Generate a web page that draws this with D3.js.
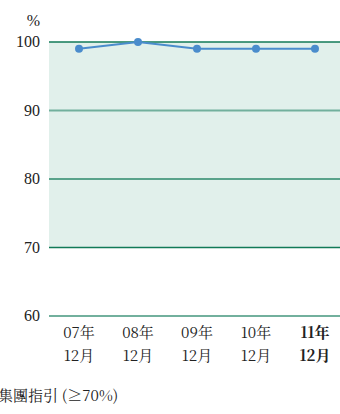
<!DOCTYPE html>
<html>
<head>
<meta charset="utf-8">
<script src="https://cdn.jsdelivr.net/npm/d3@7"></script>
</head>
<body style="margin:0;background:#fff">
<svg id="chart" width="340" height="414" style="display:block"></svg>
<script>
// Compliance rate by year-end (%)
const years = ["07年", "08年", "09年", "10年", "11年"];
const months = ["12月", "12月", "12月", "12月", "12月"];
const values = [99, 100, 99, 99, 99];
const yTicks = [60, 70, 80, 90, 100];
const guideline = [70, 100];
const unitLabel = "%";
const footnote = "集團指引 (≥70%)";

const LATIN = '"Liberation Serif"';
const CJK = '"Noto Serif CJK TC"';
const svg = d3.select("#chart");
const plotLeft = 49, plotRight = 340;

const y = d3.scaleLinear().domain([60, 100]).range([316, 42]);
const x = d3.scalePoint().domain(d3.range(years.length)).range([79, 315]);

// Guideline band
svg.append("rect")
  .attr("x", plotLeft)
  .attr("width", plotRight - plotLeft)
  .attr("y", y(guideline[1]))
  .attr("height", y(guideline[0]) - y(guideline[1]))
  .attr("fill", "#e1f0eb");

// Grid lines
const gridColor = d => (d === 70 || d === 100) ? "#117a57" : (d === 80 ? "#2b8a6b" : "#72b09d");
svg.append("g").selectAll("line")
  .data(yTicks)
  .join("line")
  .attr("x1", plotLeft).attr("x2", plotRight)
  .attr("y1", d => y(d)).attr("y2", d => y(d))
  .attr("stroke", gridColor)
  .attr("stroke-width", d => (d === 90 || d === 60) ? 2 : 1.6);

// Y tick labels
svg.append("g").selectAll("text")
  .data(yTicks)
  .join("text")
  .attr("x", 40)
  .attr("y", d => y(d) + 5)
  .attr("text-anchor", "end")
  .attr("font-size", 16)
  .attr("fill", "#222")
  .style("font-family", LATIN)
  .text(d => d);

svg.append("text")
  .attr("x", 40).attr("y", 26)
  .attr("text-anchor", "end")
  .attr("font-size", 16)
  .attr("fill", "#222")
  .style("font-family", LATIN)
  .text(unitLabel);

// Line and points
const line = d3.line().x((d, i) => x(i)).y(d => y(d));
svg.append("path")
  .datum(values)
  .attr("d", line)
  .attr("fill", "none")
  .attr("stroke", "#4a8ccc")
  .attr("stroke-width", 2);

svg.append("g").selectAll("circle")
  .data(values)
  .join("circle")
  .attr("cx", (d, i) => x(i))
  .attr("cy", d => y(d))
  .attr("r", 4)
  .attr("fill", "#4a8ccc");

// Category labels (two lines, last one bold)
const last = years.length - 1;
const labelRows = [[years, 338], [months, 361]];
labelRows.forEach(([labels, yPos]) => {
  svg.append("g").selectAll("text")
    .data(labels)
    .join("text")
    .attr("x", (d, i) => x(i))
    .attr("y", yPos)
    .attr("text-anchor", "middle")
    .attr("font-size", 15)
    .attr("font-weight", (d, i) => i === last ? "bold" : "normal")
    .attr("fill", "#222")
    .style("font-family", CJK)
    .text(d => d);
});

// Footnote
svg.append("text")
  .attr("x", -2).attr("y", 401)
  .attr("font-size", 15)
  .attr("fill", "#222")
  .style("font-family", CJK)
  .text(footnote);
</script>
</body>
</html>
